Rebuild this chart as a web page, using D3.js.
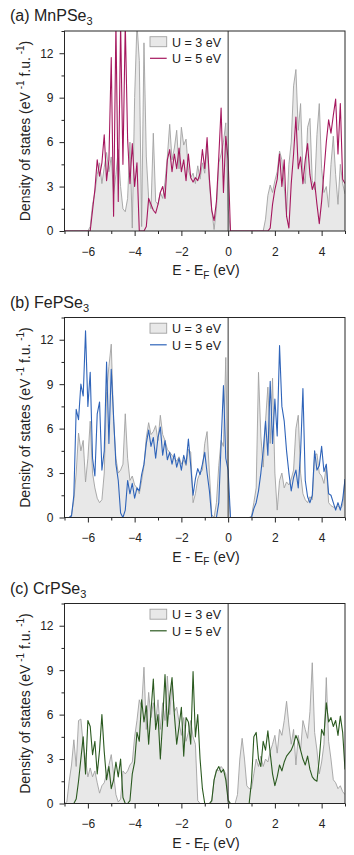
<!DOCTYPE html>
<html>
<head>
<meta charset="utf-8">
<title>DOS MPSe3</title>
<script src="https://cdn.jsdelivr.net/npm/d3@7"></script>
<style>
    body {
        margin: 0;
        background: #fff;
        font-family: "Liberation Sans", Arial, sans-serif;
    }
</style>
</head>
<body>
<div id="chart"></div>
<script>
// energy grid (eV, relative to E_F)
const energy = [
    -7.0, -6.9, -6.8, -6.7, -6.6, -6.5, -6.4, -6.3, -6.2, -6.1,
    -6.0, -5.9, -5.8, -5.7, -5.6, -5.5, -5.4, -5.3, -5.2, -5.1,
    -5.0, -4.9, -4.8, -4.7, -4.6, -4.5, -4.4, -4.3, -4.2, -4.1,
    -4.0, -3.9, -3.8, -3.7, -3.6, -3.5, -3.4, -3.3, -3.2, -3.1,
    -3.0, -2.9, -2.8, -2.7, -2.6, -2.5, -2.4, -2.3, -2.2, -2.1,
    -2.0, -1.9, -1.8, -1.7, -1.6, -1.5, -1.4, -1.3, -1.2, -1.1,
    -1.0, -0.9, -0.8, -0.7, -0.6, -0.5, -0.4, -0.3, -0.2, -0.1,
    0.0, 0.1, 0.2, 0.3, 0.4, 0.5, 0.6, 0.7, 0.8, 0.9,
    1.0, 1.1, 1.2, 1.3, 1.4, 1.5, 1.6, 1.7, 1.8, 1.9,
    2.0, 2.1, 2.2, 2.3, 2.4, 2.5, 2.6, 2.7, 2.8, 2.9,
    3.0, 3.1, 3.2, 3.3, 3.4, 3.5, 3.6, 3.7, 3.8, 3.9,
    4.0, 4.1, 4.2, 4.3, 4.4, 4.5, 4.6, 4.7, 4.8, 4.9,
    5.0
];

// MnPSe3
const mnU3 = [
    0, 0, 0, 0, 0, 0, 0, 0, 0, 0, 0,
    0.3, 1.8, 2.6, 3.8, 4.6, 3.2, 4.3, 5.3, 4.0, 5.0,
    2.5, 3.8, 5.5, 3.0, 1.5, 1.3, 2.2, 6.0, 0.2, 9.0,
    14, 11.5, 0.3, 12.7, 5.0, 2.2, 1.5, 6.6, 2.0, 1.8,
    2.6, 2.2, 3.3, 5.0, 7.2, 4.8, 5.6, 6.8, 4.2, 7.0,
    5.8, 6.2, 4.1, 3.6, 3.9, 3.2, 4.4, 3.5, 4.6, 3.9,
    5.8, 3.2, 1.4, 0.1, 1.5, 4.6, 5.2, 6.0, 7.3, 1.5,
    0, 0, 0, 0, 0, 0, 0, 0, 0, 0,
    0, 0, 0, 0, 0, 0.8, 2.4, 3.1, 2.6, 3.4,
    4.0, 5.4, 4.8, 3.0, 1.2, 4.5, 6.0, 9.8, 10.9, 6.8,
    8.6, 4.0, 3.2, 7.0, 7.6, 3.4, 2.8, 6.5, 8.6, 4.2,
    2.6, 3.0, 1.6, 4.5, 6.4, 3.8, 1.8, 4.5, 3.2, 2.5
];
const mnU5 = [
    0, 0, 0, 0, 0, 0, 0, 0, 0, 0, 0,
    0, 1.4, 2.8, 4.8, 3.7, 4.6, 6.5, 3.4, 4.8, 11.7,
    1.0, 14, 2.0, 14, 4.5, 14, 6.2, 3.2, 5.9, 3.0,
    4.6, 0, 0, 0, 0.3, 2.2, 1.8, 1.4, 1.2, 1.8,
    2.6, 3.0, 2.2, 4.8, 5.5, 4.0, 5.2, 4.2, 5.6, 4.0,
    4.8, 3.4, 5.2, 3.6, 3.3, 3.6, 3.4, 3.9, 5.5, 4.2,
    6.3, 3.5, 1.4, 0.7, 2.0, 5.0, 8.3, 2.6, 6.4, 4.8,
    0, 0, 0, 0, 0, 0, 0, 0, 0, 0,
    0, 0, 0, 0, 0, 0, 0, 0.2, 1.8, 2.8,
    3.5, 5.2, 3.0, 4.8, 1.0, 0.2, 3.2, 5.2, 7.7, 4.2,
    5.0, 3.2, 4.8, 5.9, 3.8, 2.8, 3.3, 1.8, 0.5, 2.0,
    4.0, 6.0, 7.5, 6.6, 7.8, 8.9, 5.2, 8.6, 3.5, 3.2
];

// FePSe3
const feU3 = [
    0, 0, 0, 0.2, 1.2, 3.0, 5.7, 4.5, 5.2, 2.4, 4.0,
    6.5, 3.0, 2.0, 1.3, 1.0, 1.2, 3.0, 8.5, 10.2, 11.7,
    6.5, 4.0, 3.0, 3.2, 3.6, 7.0, 4.0, 2.5, 2.8, 2.2,
    2.0, 1.6, 2.5, 3.5, 5.4, 6.4, 5.6, 5.8, 6.2, 5.2,
    6.9, 5.6, 5.2, 4.6, 4.4, 4.2, 4.0, 3.8, 4.1, 3.6,
    3.9, 3.5, 4.6, 4.4, 1.0, 1.6, 2.6, 3.0, 3.2, 5.0,
    5.8, 3.0, 0.2, 0, 1.0, 3.5, 5.2, 4.8, 10.8, 2.0,
    0, 0, 0, 0, 0, 0, 0, 0, 0, 0.1,
    1.0, 2.0, 9.8, 5.5, 3.4, 6.5, 8.8, 5.0, 9.4, 3.0,
    0.5, 2.5, 3.0, 2.0, 2.4, 2.2, 2.6, 3.2, 6.0, 6.9,
    3.0, 1.6, 1.2, 1.0, 1.4, 1.2, 4.2, 4.3, 3.0, 2.8,
    2.3, 3.5, 1.0, 0.8, 0.7, 0.7, 0.8, 0.6, 0.8, 2.6
];
const feU5 = [
    0, 0, 0, 0.1, 1.5, 7.3, 6.6, 9.0, 8.2, 12.6, 7.5,
    9.8, 4.0, 2.8, 7.0, 7.8, 3.2, 4.5, 10.5, 5.0, 10.0,
    6.8, 3.6, 2.5, 0.3, 0, 0.5, 2.5, 1.6, 2.3, 1.3,
    2.0, 1.8, 2.9, 3.6, 5.0, 5.9, 4.8, 5.4, 4.0, 5.4,
    6.1, 4.2, 5.2, 3.9, 4.4, 3.6, 4.3, 3.4, 4.0, 3.2,
    4.2, 3.6, 5.3, 3.5, 1.5, 2.6, 3.3, 2.9, 3.6, 4.4,
    3.0, 1.8, 0, 0, 0, 1.0, 5.0, 8.9, 4.0, 3.2,
    0, 0, 0, 0, 0, 0, 0, 0, 0, 0,
    0.6, 1.0, 1.8, 3.0, 4.5, 6.5, 4.2, 9.2, 5.0, 8.0,
    5.5, 11.6, 7.5, 6.5, 4.5, 3.0, 1.8, 2.7, 3.2, 2.0,
    4.4, 8.7, 2.5, 1.4, 1.0, 1.5, 4.5, 3.2, 3.5, 4.8,
    3.1, 3.6, 1.6, 1.5, 1.0, 0.5, 1.0, 0.5, 1.2, 2.6
];

// CrPSe3
const crU3 = [
    0, 0.1, 1.5, 2.6, 4.3, 2.5, 5.6, 5.7, 4.0, 3.0, 1.8,
    2.4, 1.8, 2.2, 1.4, 0.7, 1.2, 1.4, 2.0, 2.6, 3.3,
    2.0, 0.6, 0.1, 0.3, 2.2, 2.0, 2.2, 2.6, 2.8, 4.5,
    5.6, 7.0, 6.5, 9.2, 5.0, 7.5, 5.8, 6.8, 5.5, 7.0,
    5.0, 6.8, 5.6, 8.6, 6.0, 8.2, 6.2, 6.5, 5.5, 4.6,
    5.8, 4.2, 4.8, 5.6, 4.5, 4.0, 0.2, 0, 0, 0,
    0, 0, 0.1, 1.6, 2.3, 2.2, 2.5, 2.3, 2.0, 0.3,
    0, 0, 0, 0.6, 3.0, 4.4, 3.0, 1.2, 1.0, 1.0,
    2.0, 3.0, 2.5, 3.2, 2.5, 3.0, 2.8, 3.5, 4.0, 4.6,
    3.4, 5.0, 4.6, 5.6, 6.9, 5.3, 4.0, 5.0, 2.6, 4.6,
    3.6, 5.6, 5.0, 4.4, 6.2, 9.5, 4.8, 3.6, 2.0, 2.8,
    4.0, 8.5, 4.2, 3.0, 1.6, 1.4, 1.0, 1.2, 0.8, 0.6
];
const crU5 = [
    0, 0, 0, 0, 0, 0.3, 1.5, 3.0, 4.5, 2.0, 5.6,
    5.2, 3.3, 4.2, 2.0, 3.6, 6.0, 3.5, 1.6, 2.5, 1.0,
    1.6, 2.8, 1.8, 3.0, 0.4, 0, 0, 0.2, 2.0, 2.8,
    4.8, 4.2, 7.0, 5.5, 6.6, 4.0, 6.2, 8.4, 5.0, 6.0,
    3.0, 5.6, 8.7, 5.2, 7.2, 8.5, 6.0, 4.0, 5.2, 6.5,
    3.2, 5.8, 5.5, 4.0, 8.9, 4.5, 6.0, 3.0, 1.0, 0,
    0, 0, 0.2, 1.6, 2.2, 2.5, 2.1, 2.3, 1.6, 0.2,
    0, 0, 0, 0, 0, 0, 0, 0, 0, 1.5,
    4.5, 4.8, 3.0, 2.5, 4.2, 3.6, 4.9, 3.4, 2.0, 1.2,
    1.8, 2.6, 2.2, 2.8, 3.2, 3.4, 3.6, 4.0, 4.6, 4.2,
    3.6, 3.0, 2.6, 3.2, 2.3, 1.8, 1.6, 1.5, 3.0, 5.0,
    4.6, 6.8, 5.5, 5.8, 5.2, 5.6, 4.6, 5.9, 4.8, 2.3
];

const xMajor = [-6, -4, -2, 0, 2, 4];
const xMinor = [-7, -5, -3, -1, 1, 3, 5];
const yMajor = [0, 3, 6, 9, 12];
const yMinor = [1.5, 4.5, 7.5, 10.5, 13.5];
const legendLabels = ["U = 3 eV", "U = 5 eV"];

const panels = [
    { tag: "(a) ", name: "MnPSe", u3: mnU3, u5: mnU5, color: "#a5175e", top: 31 },
    { tag: "(b) ", name: "FePSe", u3: feU3, u5: feU5, color: "#2f64b9", top: 317.5 },
    { tag: "(c) ", name: "CrPSe", u3: crU3, u5: crU5, color: "#2b5a20", top: 603.5 }
];

const W = 354, H = 855;
const left = 64.5, right = 345, plotH = 200;
const axisColor = "#262626";

const svg = d3.select("#chart")
    .append("svg")
    .attr("width", W)
    .attr("height", H)
    .style("font-family", '"Liberation Sans", Arial, sans-serif');

const x = d3.scaleLinear().domain([-7, 5]).range([left, right]);

panels.forEach((p, i) => {
    const bottom = p.top + plotH;
    const y = d3.scaleLinear().domain([0, 13.5]).range([bottom, p.top]);
    const g = svg.append("g");

    g.append("clipPath").attr("id", "clip" + i)
        .append("rect")
        .attr("x", left).attr("y", p.top)
        .attr("width", right - left).attr("height", plotH);

    const plot = g.append("g").attr("clip-path", `url(#clip${i})`);

    const area = d3.area()
        .x((d, j) => x(energy[j]))
        .y0(y(0))
        .y1(d => y(d));
    const line = d3.line()
        .x((d, j) => x(energy[j]))
        .y(d => y(d));

    plot.append("path")
        .datum(p.u3)
        .attr("d", area)
        .attr("fill", "#e8e8e8");
    plot.append("path")
        .datum(p.u3)
        .attr("d", line)
        .attr("fill", "none")
        .attr("stroke", "#a2a2a2")
        .attr("stroke-width", 0.9);
    plot.append("path")
        .datum(p.u5)
        .attr("d", line)
        .attr("fill", "none")
        .attr("stroke", p.color)
        .attr("stroke-width", 1.1)
        .attr("stroke-linejoin", "round");

    // Fermi level
    g.append("line")
        .attr("x1", x(0)).attr("x2", x(0))
        .attr("y1", p.top).attr("y2", bottom)
        .attr("stroke", "#333")
        .attr("stroke-width", 1);

    // frame
    g.append("rect")
        .attr("x", left).attr("y", p.top)
        .attr("width", right - left).attr("height", plotH)
        .attr("fill", "none")
        .attr("stroke", axisColor)
        .attr("stroke-width", 1);

    // axes
    const xAxisMaj = d3.axisBottom(x).tickValues(xMajor).tickSize(5).tickPadding(11).tickSizeOuter(0);
    const xAxisMin = d3.axisBottom(x).tickValues(xMinor).tickSize(3).tickFormat("").tickSizeOuter(0);
    const yAxisMaj = d3.axisLeft(y).tickValues(yMajor).tickSize(5).tickPadding(6).tickSizeOuter(0);
    const yAxisMin = d3.axisLeft(y).tickValues(yMinor).tickSize(3).tickFormat("").tickSizeOuter(0);

    [xAxisMaj, xAxisMin].forEach(ax => {
        g.append("g")
            .attr("transform", `translate(0,${bottom})`)
            .call(ax)
            .call(s => s.select(".domain").remove());
    });
    [yAxisMaj, yAxisMin].forEach(ax => {
        g.append("g")
            .attr("transform", `translate(${left},0)`)
            .call(ax)
            .call(s => s.select(".domain").remove());
    });
    g.selectAll(".tick line").attr("stroke", axisColor);
    g.selectAll(".tick text")
        .attr("fill", "#222")
        .style("font-size", "12px")
        .style("font-family", '"Liberation Sans", Arial, sans-serif');

    // panel title
    const title = g.append("text")
        .attr("x", 10)
        .attr("y", p.top - 10)
        .attr("fill", "#222")
        .style("font-size", "16px");
    title.append("tspan").text(p.tag + p.name);
    title.append("tspan").attr("dy", 4).style("font-size", "11px").text("3");

    // x label
    const xl = g.append("text")
        .attr("x", 206)
        .attr("y", bottom + 44)
        .attr("text-anchor", "middle")
        .attr("fill", "#222")
        .style("font-size", "14px");
    xl.append("tspan").text("E - E");
    xl.append("tspan").attr("dy", 3.5).style("font-size", "10px").text("F");
    xl.append("tspan").attr("dy", -3.5).text(" (eV)");

    // y label
    const yl = g.append("text")
        .attr("transform", `translate(30,${(p.top + bottom) / 2}) rotate(-90)`)
        .attr("text-anchor", "middle")
        .attr("fill", "#222")
        .style("font-size", "14px");
    yl.append("tspan").text("Density of states (eV");
    yl.append("tspan").attr("dy", -6).style("font-size", "10px").text(" -1");
    yl.append("tspan").attr("dy", 6).text(" f.u.");
    yl.append("tspan").attr("dy", -6).style("font-size", "10px").text(" -1");
    yl.append("tspan").attr("dy", 6).text(")");

    // legend
    g.append("rect")
        .attr("x", 150).attr("y", p.top + 5.7)
        .attr("width", 16.7).attr("height", 10)
        .attr("fill", "#e8e8e8")
        .attr("stroke", "#a2a2a2")
        .attr("stroke-width", 0.9);
    g.append("line")
        .attr("x1", 150).attr("x2", 166.7)
        .attr("y1", p.top + 27.3).attr("y2", p.top + 27.3)
        .attr("stroke", p.color)
        .attr("stroke-width", 1.2);
    legendLabels.forEach((t, k) => {
        g.append("text")
            .attr("x", 172)
            .attr("y", p.top + 15.7 + k * 16.6)
            .attr("fill", "#222")
            .style("font-size", "12.5px")
            .text(t);
    });
});
</script>
</body>
</html>
